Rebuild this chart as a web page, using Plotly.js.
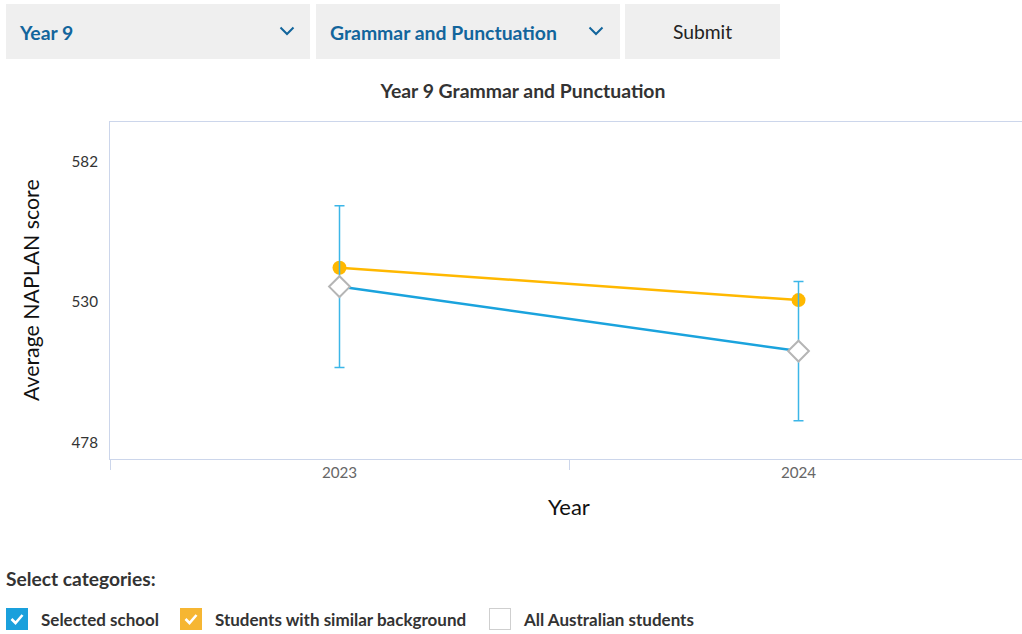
<!DOCTYPE html>
<html>
<head>
<meta charset="utf-8">
<script src="https://cdn.plot.ly/plotly-3.0.1.min.js"></script>
<style>
  html, body { margin:0; padding:0; width:1022px; height:634px; overflow:hidden; background:#fff; font-family:Lato, sans-serif; }
  #chart { position:absolute; left:0; top:0; width:1040px; height:634px; }
  .box { position:absolute; top:4px; height:55px; background:#efefef; box-sizing:border-box; }
  .dd { font-weight:700; font-size:19.4px; color:#12659c; }
  .dd span { position:absolute; left:14px; top:50%; transform:translateY(-50%); white-space:nowrap; }
  .dd svg { position:absolute; top:22px; }
  .submit { font-size:19.3px; color:#222; text-align:center; line-height:55px; }
  .sel { position:absolute; left:6px; top:567px; font-size:19.2px; font-weight:700; color:#333; }
  .cb { position:absolute; top:608px; width:22px; height:22px; box-sizing:border-box; }
  .lab { position:absolute; top:609px; font-size:17px; font-weight:700; color:#333; white-space:nowrap; }
</style>
</head>
<body>
<div id="chart"></div>

<div class="box dd" style="left:6px;width:304px;"><span>Year 9</span>
  <svg style="left:273px" width="16" height="10" viewBox="0 0 16 10"><polyline points="1.5,1.5 8,8 14.5,1.5" fill="none" stroke="#12659c" stroke-width="2"/></svg></div>
<div class="box dd" style="left:316px;width:304px;"><span>Grammar and Punctuation</span>
  <svg style="left:272px" width="16" height="10" viewBox="0 0 16 10"><polyline points="1.5,1.5 8,8 14.5,1.5" fill="none" stroke="#12659c" stroke-width="2"/></svg></div>
<div class="box submit" style="left:625px;width:155px;">Submit</div>

<div class="sel">Select categories:</div>
<div class="cb" style="left:6px;background:#1aa0dc;">
  <svg width="22" height="22" viewBox="0 0 22 22"><polyline points="5.5,11 9.5,15 16.5,7" fill="none" stroke="#fff" stroke-width="2.6"/></svg></div>
<div class="lab" style="left:41px;">Selected school</div>
<div class="cb" style="left:180px;background:#f6b632;">
  <svg width="22" height="22" viewBox="0 0 22 22"><polyline points="5.5,11 9.5,15 16.5,7" fill="none" stroke="#fff" stroke-width="2.6"/></svg></div>
<div class="lab" style="left:215px;">Students with similar background</div>
<div class="cb" style="left:489px;border:1px solid #cfcfcf;background:#fff;"></div>
<div class="lab" style="left:524px;">All Australian students</div>

<script>
const years = ['2023', '2024'];
const schoolScores = [535.7, 511.8];
const schoolError = [30.0, 25.8];
const similarScores = [542.7, 530.7];
const yTickVals = [478, 530, 582];
const yRange = [471.8, 596.7];

const axisColor = '#ccd6eb';

const traces = [
  {
    x: years, y: similarScores, type: 'scatter', mode: 'lines+markers',
    name: 'Students with similar background',
    line: { color: '#ffb800', width: 2.5 },
    marker: { symbol: 'circle', size: 14, color: '#ffb800' },
    hoverinfo: 'skip'
  },
  {
    x: years, y: schoolScores, type: 'scatter', mode: 'lines+markers',
    name: 'Selected school',
    line: { color: '#1aa3dd', width: 2.5 },
    marker: { symbol: 'diamond', size: 16, color: '#ffffff', line: { color: '#b5b5b5', width: 2 } },
    error_y: { type: 'data', array: schoolError, visible: true, color: '#3cb6e8', thickness: 1.5, width: 5 },
    hoverinfo: 'skip'
  }
];

const layout = {
  width: 1040, height: 634,
  margin: { l: 110, r: 12, t: 122, b: 175 },
  paper_bgcolor: '#ffffff', plot_bgcolor: '#ffffff',
  showlegend: false,
  font: { family: 'Lato, sans-serif', color: '#333' },
  title: {
    text: 'Year 9 Grammar and Punctuation',
    font: { family: 'Lato, sans-serif', size: 19.4, weight: 700, color: '#333' },
    xref: 'container', yref: 'container', x: 523 / 1040, y: 1 - 91 / 634,
    xanchor: 'center', yanchor: 'middle'
  },
  xaxis: {
    type: 'category', range: [-0.5, 1.5],
    tickson: 'boundaries', ticks: 'outside', ticklen: 10, tickcolor: axisColor, tickwidth: 1,
    showline: true, linecolor: axisColor, linewidth: 1, mirror: true,
    showgrid: false, zeroline: false, fixedrange: true,
    tickfont: { family: 'Lato, sans-serif', size: 15.2, color: '#666' }
  },
  yaxis: {
    range: yRange, tickmode: 'array', tickvals: yTickVals,
    ticks: 'outside', ticklen: 8, tickcolor: 'rgba(0,0,0,0)',
    showline: true, linecolor: axisColor, linewidth: 1, mirror: true,
    showgrid: false, zeroline: false, fixedrange: true,
    tickfont: { family: 'Lato, sans-serif', size: 15.2, color: '#333' }
  },
  annotations: [
    { text: 'Average NAPLAN score', xref: 'paper', yref: 'paper',
      x: (31 - 110) / 918, y: (459 - 290) / 337, textangle: -90, showarrow: false,
      xanchor: 'center', yanchor: 'middle',
      font: { family: 'Lato, sans-serif', size: 21.3, color: '#111' } },
    { text: 'Year', xref: 'paper', yref: 'paper',
      x: (569 - 110) / 918, y: -(506 - 459) / 337, showarrow: false,
      xanchor: 'center', yanchor: 'middle',
      font: { family: 'Lato, sans-serif', size: 22, color: '#111' } }
  ]
};

Plotly.newPlot('chart', traces, layout, { displayModeBar: false, staticPlot: true });
</script>
</body>
</html>
